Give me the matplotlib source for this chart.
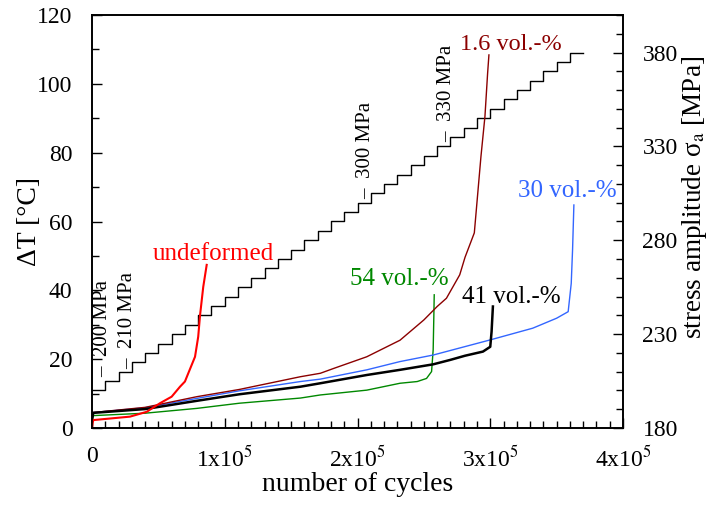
import matplotlib
matplotlib.use("Agg")
import matplotlib.pyplot as plt
from matplotlib.ticker import MultipleLocator, FuncFormatter

plt.rcParams["font.family"] = ["Liberation Serif", "DejaVu Serif"]
plt.rcParams["mathtext.fontset"] = "stix"
plt.rcParams["font.size"] = 17

# temperature rise curves: cycles (x1000) and delta T [degC]
undef_n = [0, 0.5, 1, 28.6, 41.2, 51.2, 60, 66.3, 70, 72, 77.6, 80, 81.4, 83.8, 86.4]
undef_t = [0, 1.5, 2.3, 3.3, 4.7, 7.2, 9.1, 12.0, 13.5, 15.4, 20.7, 26.5, 32.8, 41.0, 47.4]

v16_n = [0, 1, 40, 79, 111, 157, 172, 182, 207, 232, 250, 260, 267, 277, 281, 288, 293, 296, 298, 299]
v16_t = [2.5, 4.5, 6.0, 9.1, 11.2, 14.9, 15.9, 17.3, 20.7, 25.5, 31.4, 35.3, 37.7, 44.5, 49.6, 56.7, 78.9, 90.5, 103.0, 108.4]

v30_n = [0, 1, 40, 79, 111, 157, 172, 207, 232, 257, 300, 332, 350, 358.7, 361, 362, 363]
v30_t = [2.5, 4.5, 5.9, 8.6, 10.8, 13.5, 14.2, 16.9, 19.3, 21.2, 25.6, 29.0, 31.9, 33.8, 42.0, 51.7, 64.8]

v41_n = [0, 1, 40, 79, 111, 157, 172, 207, 232, 257, 270, 281, 294.5, 300, 301, 302]
v41_t = [2.5, 4.4, 5.5, 7.9, 9.8, 12.0, 13.0, 15.4, 16.9, 18.5, 19.8, 21.0, 22.2, 23.6, 28.0, 35.3]

v54_n = [0, 1, 40, 79, 111, 157, 172, 207, 232, 245, 252, 255.8, 257, 257.5, 257.8]
v54_t = [2.0, 3.6, 4.3, 5.7, 7.2, 8.7, 9.6, 11.0, 13.0, 13.5, 14.4, 16.4, 22.7, 32.4, 38.7]

# load steps: cycles (x1000) at start of each step, stress amplitude [MPa]
step_n = [0, 10, 20, 30, 40, 50, 60, 70, 80, 90, 100, 110, 120, 130, 140, 150, 160, 170,
          180, 190, 200, 210, 220, 230, 240, 250, 260, 270, 280, 290, 300, 310, 320, 330,
          340, 350, 360, 370]
step_s = [200, 205, 210, 215, 220, 225, 230, 235, 240, 245, 250, 255, 260, 265, 270, 275,
          280, 285, 290, 295, 300, 305, 310, 315, 320, 325, 330, 335, 340, 345, 350, 355,
          360, 365, 370, 375, 380, 380]


def k(vals):
    return [v * 1000 for v in vals]


fig = plt.figure(figsize=(7.11, 5.05), dpi=100)
ax = fig.add_axes([92 / 711, 1 - 428 / 505, 531 / 711, 413 / 505])
ax2 = ax.twinx()

ax2.plot(k(step_n), step_s, color="black", lw=1.0, drawstyle="steps-post")

ax.plot(k(v54_n), v54_t, color="#008800", lw=1.0)
ax.plot(k(v30_n), v30_t, color="#3366FF", lw=1.0)
ax.plot(k(v16_n), v16_t, color="#8B0000", lw=1.0)
ax.plot(k(v41_n), v41_t, color="black", lw=1.8)
ax.plot(k(undef_n), undef_t, color="red", lw=1.5)

ax.set_zorder(ax2.get_zorder() + 1)
ax.patch.set_visible(False)

ax.set_xlim(0, 4e5)
ax.set_ylim(0, 120)
ax2.set_ylim(180, 400)

ax.xaxis.set_major_locator(MultipleLocator(1e5))
ax.xaxis.set_minor_locator(MultipleLocator(1e4))
ax.yaxis.set_major_locator(MultipleLocator(20))
ax.yaxis.set_minor_locator(MultipleLocator(10))
ax2.set_yticks([180, 230, 280, 330, 380])
ax2.yaxis.set_minor_locator(MultipleLocator(10))


def xfmt(v, pos):
    if v == 0:
        return "0"
    return "%dx10$^{5}$" % round(v / 1e5)


ax.xaxis.set_major_formatter(FuncFormatter(xfmt))

ax.tick_params(axis="both", which="major", direction="in", length=7, width=1)
ax.tick_params(axis="both", which="minor", direction="in", length=5, width=1)
ax.tick_params(axis="y", pad=14)
ax.tick_params(axis="x", pad=13)
ax2.tick_params(axis="y", which="major", direction="in", length=7, width=1, pad=14)
ax2.tick_params(axis="y", which="minor", direction="in", length=5, width=1)

for sp in list(ax.spines.values()) + list(ax2.spines.values()):
    sp.set_linewidth(1.2)

ax.set_xlabel("number of cycles", fontsize=20, labelpad=0)
ax.set_ylabel("ΔT [°C]", fontsize=20)
ax.yaxis.set_label_coords(-0.095, 0.5)
ax2.set_ylabel("stress amplitude σ$_{\\rm a}$ [MPa]", fontsize=19.5)
ax2.yaxis.set_label_coords(1.108, 0.557)

ax.text(46e3, 48.8, "undeformed", color="red", ha="left", va="baseline", fontsize=18)
ax.text(277e3, 109.9, "1.6 vol.-%", color="#8B0000", ha="left", va="baseline", fontsize=17.5)
ax.text(321e3, 67.2, "30 vol.-%", color="#3366FF", ha="left", va="baseline", fontsize=18)
ax.text(194e3, 41.6, "54 vol.-%", color="#008800", ha="left", va="baseline", fontsize=18)
ax.text(279e3, 36.3, "41 vol.-%", color="black", ha="left", va="baseline", fontsize=18)

for xn, ys, lab in [(8.3e3, 207, "–  200 MPa"), (27e3, 211.5, "–  210 MPa"),
                    (206.4e3, 302.2, "–  300 MPa"), (267e3, 332.6, "–  330 MPa")]:
    ax2.text(xn, ys, lab, rotation=90, ha="center", va="bottom", fontsize=15)

fig.savefig("out.png", dpi=100)
